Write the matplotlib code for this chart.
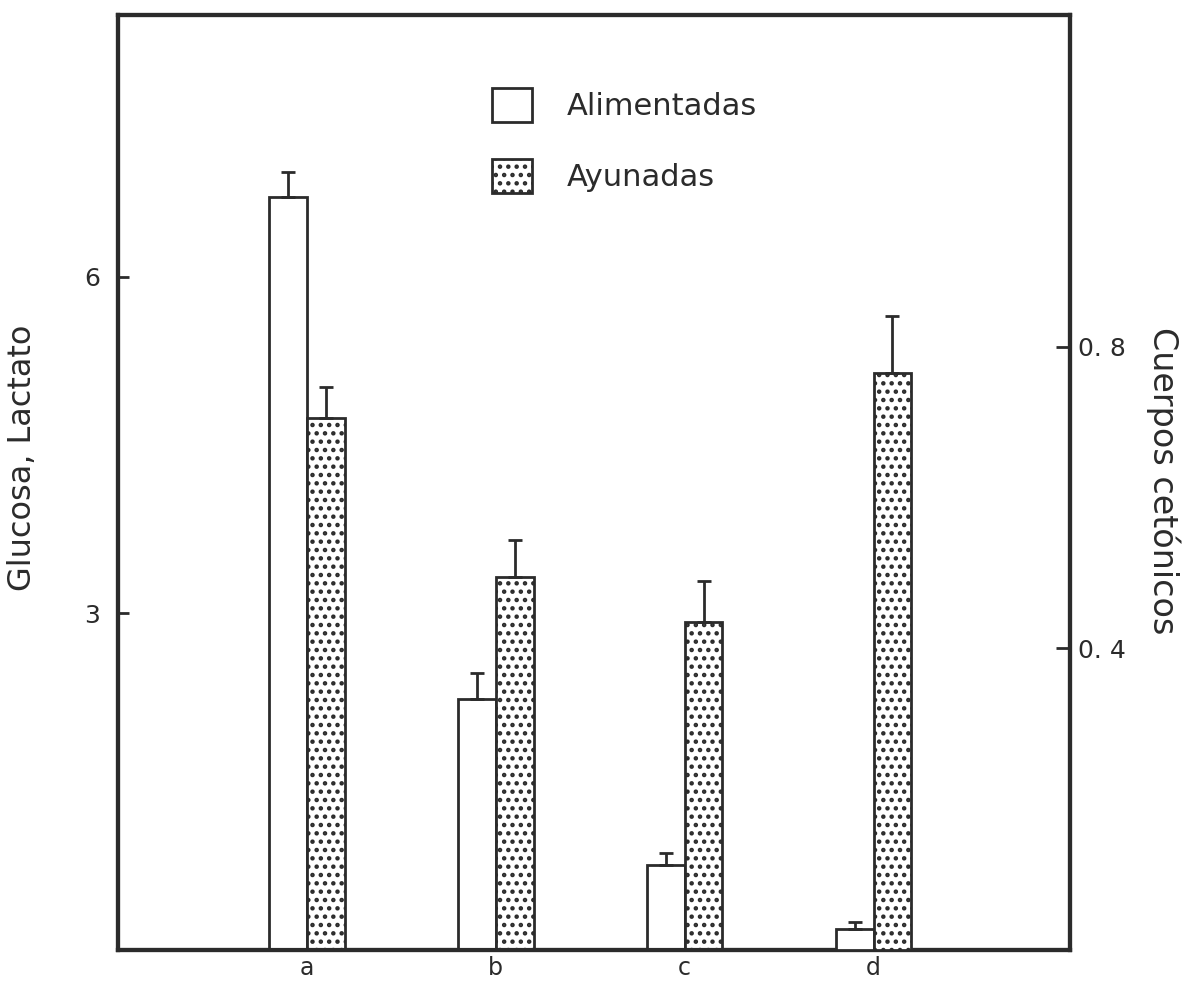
import matplotlib
matplotlib.use("Agg")
import matplotlib.pyplot as plt
from matplotlib.patches import Patch
import numpy as np

# Experimental groups and measured means with standard errors
categories = ["a", "b", "c", "d"]
alimentadas = [6.71, 2.24, 0.76, 0.028]
alimentadas_err = [0.22, 0.23, 0.10, 0.009]
ayunadas = [4.74, 3.32, 2.92, 0.765]
ayunadas_err = [0.28, 0.33, 0.37, 0.076]
# Group "d" (cuerpos cetónicos) is read on the right-hand scale
on_right_axis = [False, False, False, True]

left_ticks = [3, 6]
left_ticklabels = ["3", "6"]
right_ticks = [0.4, 0.8]
right_ticklabels = ["0. 4", "0. 8"]

ink = "#2b2b2b"
plt.rcParams["font.family"] = ["DejaVu Sans"]
plt.rcParams["hatch.linewidth"] = 2.0
plt.rcParams["hatch.color"] = ink

fig = plt.figure(figsize=(11.82, 9.83), dpi=100)
ax = fig.add_axes([118 / 1182, 1 - 950 / 983, (1070 - 118) / 1182, (950 - 15) / 983])
ax2 = ax.twinx()

ax.set_xlim(0, 5.04)
ax.set_ylim(0, 8.33)
ax2.set_ylim(0, 1.24)

width = 0.2
x = np.arange(1, len(categories) + 1)
err_kw = dict(ecolor=ink, elinewidth=2.0, capsize=5, capthick=2.0)

for i, cat in enumerate(categories):
    target = ax2 if on_right_axis[i] else ax
    target.bar(x[i] - width / 2, alimentadas[i], width,
               yerr=[[0], [alimentadas_err[i]]],
               facecolor="white", edgecolor=ink, linewidth=2.0,
               error_kw=err_kw, zorder=3)
    target.bar(x[i] + width / 2, ayunadas[i], width,
               yerr=[[0], [ayunadas_err[i]]],
               facecolor="white", edgecolor=ink, linewidth=2.0,
               hatch="..", error_kw=err_kw, zorder=3)

# Frame
for a in (ax, ax2):
    for s in a.spines.values():
        s.set_linewidth(3.0)
        s.set_color(ink)

# Left scale: Glucosa, Lactato
ax.set_yticks(left_ticks, left_ticklabels)
ax.tick_params(axis="y", direction="in", length=8, width=2, color=ink,
               labelsize=18, labelcolor=ink, pad=13)
ax.set_xticks(x, categories)
ax.tick_params(axis="x", length=0, labelsize=17, labelcolor=ink, pad=4)

# Right scale: Cuerpos cetónicos
ax2.set_yticks(right_ticks, right_ticklabels)
ax2.tick_params(axis="y", direction="in", length=10, width=2, color=ink,
                labelsize=18, labelcolor=ink, pad=6)

ax.set_ylabel("Glucosa, Lactato", fontsize=23, color=ink,
              rotation=90, ha="center", va="center")
ax.yaxis.set_label_coords((23 - 118) / 952, (950 - 458) / 935)
ax2.set_ylabel("Cuerpos cetónicos", fontsize=24, color=ink,
               rotation=-90, ha="center", va="center")
ax2.yaxis.set_label_coords((1163 - 118) / 952, (950 - 481) / 935)

handles = [
    Patch(facecolor="white", edgecolor=ink, linewidth=2.0, label="Alimentadas"),
    Patch(facecolor="white", edgecolor=ink, linewidth=2.0, hatch="..", label="Ayunadas"),
]
fig.legend(handles=handles, loc="upper left",
           bbox_to_anchor=(492 / 1182, 1 - 88 / 983),
           frameon=False, fontsize=22, labelcolor=ink,
           handlelength=1.3, handleheight=1.35, handletextpad=1.15,
           labelspacing=1.2, borderpad=0, borderaxespad=0)

fig.savefig("out.png", dpi=100, facecolor="white")
